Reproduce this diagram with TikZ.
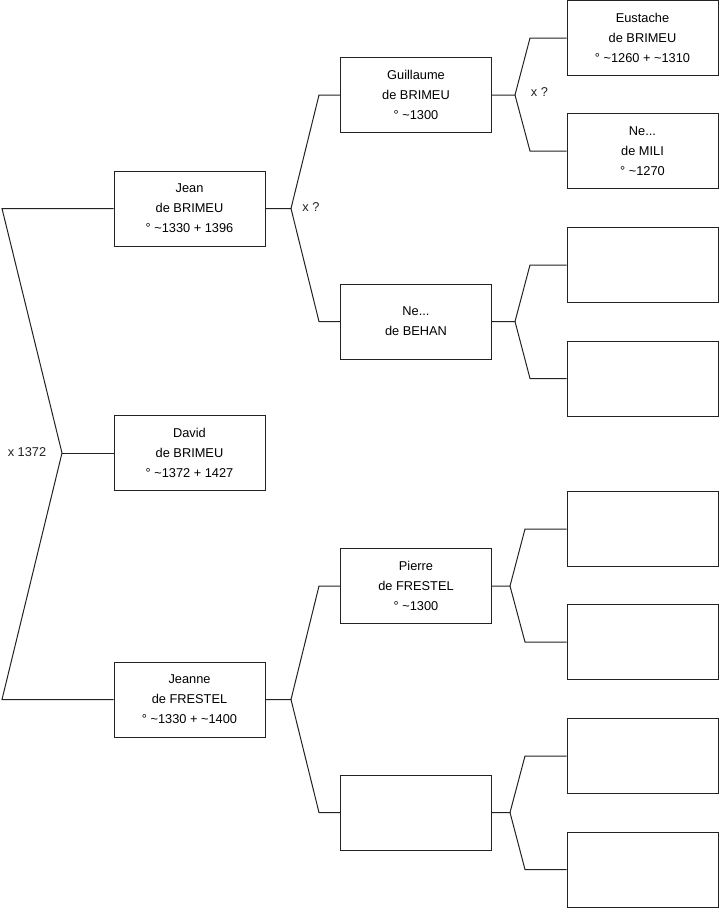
\documentclass[tikz,border=0pt]{standalone}
\usepackage{fontspec}
\setmainfont{Liberation Sans}
\usepackage{xcolor}
\usepackage{tikz}
\usetikzlibrary{positioning, calc}
\definecolor{cdark}{HTML}{222222}
\tikzset{
  person/.style={draw=cdark, line width=1pt, minimum width=151pt, minimum height=75pt,
    inner sep=0pt, align=center, font=\fontsize{12.8}{20}\selectfont},
  link/.style={draw=cdark, line width=1pt},
  union/.style={font=\fontsize{12.8}{14}\selectfont, text=cdark},
}

\begin{document}
\begin{tikzpicture}[x=1pt, y=-1pt]
\useasboundingbox (0,0) rectangle (719,908);

% generation 1
\node[person] (jean)   at (189.5,208.5) {Jean\\de BRIMEU\\° \textasciitilde1330 + 1396};
\node[person] (david)  at (189.5,453)   {David\\de BRIMEU\\° \textasciitilde1372 + 1427};
\node[person] (jeanne) at (189.5,699.5) {Jeanne\\de FRESTEL\\° \textasciitilde1330 + \textasciitilde1400};

% generation 2
\node[person] (guil)   at (416,95)    {Guillaume\\de BRIMEU\\° \textasciitilde1300};
\node[person] (behan)  at (416,321.5) {Ne...\\de BEHAN};
\node[person] (pierre) at (416,586)   {Pierre\\de FRESTEL\\° \textasciitilde1300};
\node[person] (gfour)  at (416,812.5) {};

% generation 3
\node[person] (eust)  at (642.5,38)  {Eustache\\de BRIMEU\\° \textasciitilde1260 + \textasciitilde1310};
\node[person] (mili)  at (642.5,151) {Ne...\\de MILI\\° \textasciitilde1270};
\foreach \n/\y in {gthree/265, gfour3/378.5, gfive/529, gsix/642, gseven/756, geight/869.5}
  \node[person] (\n) at (642.5,\y) {};

% couple labels
\node[union] (u0) at (27,452)    {x 1372};
\node[union] (u1) at (311,207)   {x ?};
\node[union] (u2) at (539.5,92)  {x ?};

% forks
\coordinate (lft) at (2,0);
\coordinate (j0) at (62,453);
\draw[link] (jean.west) -- (jean.west -| lft) -- (j0) -- (jeanne.west -| lft) -- (jeanne.west);
\draw[link] (j0) -- (david.west);

\coordinate (j1) at (291,208.5);
\draw[link] (jean.east) -- (j1) -- (319,95) -- (guil.west);
\draw[link] (j1) -- (319,321.5) -- (behan.west);

\coordinate (j2) at (291,699.5);
\draw[link] (jeanne.east) -- (j2) -- (319,586) -- (pierre.west);
\draw[link] (j2) -- (319,812.5) -- (gfour.west);

\coordinate (j3) at (515,95);
\draw[link] (guil.east) -- (j3) -- (530,38) -- (eust.west);
\draw[link] (j3) -- (530,151) -- (mili.west);

\coordinate (j4) at (515,321.5);
\draw[link] (behan.east) -- (j4) -- (530,265) -- (gthree.west);
\draw[link] (j4) -- (530,378.5) -- (gfour3.west);

\coordinate (j5) at (510,586);
\draw[link] (pierre.east) -- (j5) -- (525,529) -- (gfive.west);
\draw[link] (j5) -- (525,642) -- (gsix.west);

\coordinate (j6) at (510,812.5);
\draw[link] (gfour.east) -- (j6) -- (525,756) -- (gseven.west);
\draw[link] (j6) -- (525,869.5) -- (geight.west);

\end{tikzpicture}
\end{document}
